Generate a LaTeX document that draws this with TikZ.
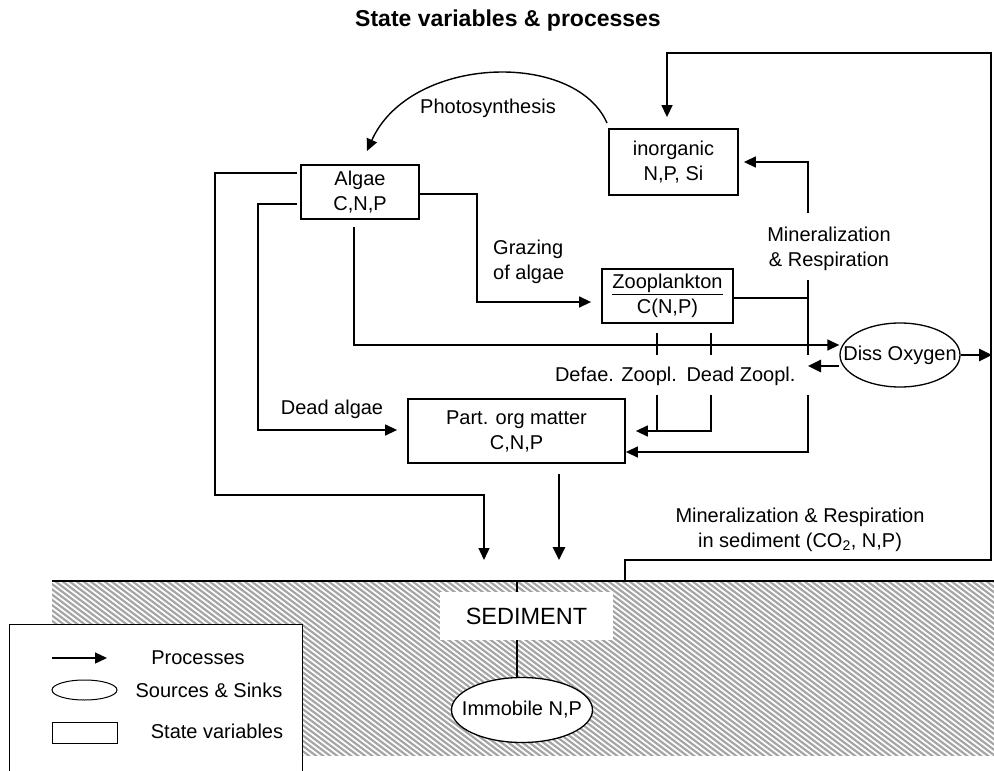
\documentclass[tikz,border=0pt]{standalone}
\usepackage{fontspec}
\setmainfont{Liberation Sans}
\usetikzlibrary{arrows.meta,shapes.geometric}
\definecolor{hatchgray}{HTML}{A6A6A6}

\begin{document}
\begin{tikzpicture}[x=1pt,y=-1pt,
  font=\fontsize{20}{25}\selectfont,
  statebox/.style={draw, line width=1.8pt, rectangle, align=center, inner sep=0pt},
  sourcesink/.style={draw, line width=1.3pt, ellipse, inner sep=0pt, fill=white},
  flow/.style={line width=1.4pt, -{Triangle[length=12pt,width=11pt]}},
  link/.style={line width=1.4pt},
  heavyflow/.style={line width=2.6pt, -{Triangle[length=13pt,width=12pt]}},
  lbl/.style={align=center, inner sep=0pt},
  hatchline/.style={line width=2.2pt, color=hatchgray}
]
\useasboundingbox (0,0) rectangle (994,771);

% ---------- sediment layer ----------
\begin{scope}
  \clip (52,581) rectangle (994,755);
  \foreach \x in {-260,-253,...,1000}
    \draw[hatchline] (\x,581) -- ++(240,180);
\end{scope}
\coordinate (sedL) at (52,581);
\coordinate (sedR) at (994,581);
\draw[line width=1.2pt] (sedL) -- (sedR);

% ---------- title ----------
\node[lbl, font=\fontsize{23}{28}\selectfont\bfseries] (title) at (508,21) {State variables \& processes};

% ---------- state variables ----------
\node[statebox, minimum width=118, minimum height=54] (algae) at (360,192) {Algae\\C,N,P};
\node[statebox, minimum width=129, minimum height=66] (inorg) at (673.5,162) {inorganic\\N,P, Si};
\node[statebox, minimum width=131, minimum height=54] (zoo) at (667.5,296) {\underline{Zooplankton}\\C(N,P)};
\node[statebox, minimum width=217, minimum height=64] (pom) at (516.5,431) {Part. org matter\\C,N,P};

% ---------- sources and sinks ----------
\node[sourcesink, minimum width=120, minimum height=64] (oxy) at (900,355) {};
\node[lbl] (oxytext) at (oxy) {Diss Oxygen};

% sediment column
\coordinate (sedtop) at (517,581);
\coordinate (sedbot) at (517,678);
\draw[line width=2pt] (sedtop) -- (sedbot);
\node[fill=white, minimum width=173, minimum height=48, inner sep=0pt,
      font=\fontsize{23.5}{28}\selectfont] (sed) at (526.5,616) {SEDIMENT};
\node[sourcesink, minimum width=141, minimum height=65] (immob) at (522,710) {};
\node[lbl] (immobtext) at (immob) {Immobile N,P};

% ---------- photosynthesis ----------
\coordinate (ps0) at (607,123);
\coordinate (ps1) at (367,151);
\draw[flow] (ps0) .. controls (575,50) and (410,55) .. (ps1);
\node[lbl] (pslbl) at (488,108) {Photosynthesis};

% ---------- sediment release back to inorganic nutrients ----------
\coordinate (rs0) at (625,581);
\coordinate (rs1) at (625,560);
\coordinate (rs2) at (991,560);
\coordinate (rs3) at (991,53);
\coordinate (rs4) at (667,53);
\draw[flow, shorten >=11pt] (rs0) -- (rs1) -- (rs2) -- (rs3) -- (rs4) -- (rs4 |- inorg.north);
\node[lbl] (rslbl) at (800,530) {Mineralization \& Respiration\\in sediment (CO\textsubscript{2}, N,P)};

% ---------- mineralization and respiration in water ----------
\coordinate (mr0) at (808,213);
\coordinate (mr1) at (808,162);
\draw[flow, shorten >=5pt] (mr0) -- (mr1) -- (inorg.east |- mr1);
\node[lbl] (mrlbl) at (829,249) {Mineralization\\\& Respiration};
\coordinate (mr2) at (808,280);
\coordinate (mr3) at (808,355);
\coordinate (mr4) at (808,395);
\coordinate (mr5) at (808,452);
\draw[link] (zoo.east |- 0,298) -- (808,298);
\draw[link] (mr2) -- (mr3);
\draw[flow] (mr4) -- (mr5) -- (pom.east |- mr5);

% ---------- oxygen exchange ----------
\coordinate (ox0) at (808,366);
\draw[heavyflow, shorten >=0pt] (oxy.west |- ox0) -- (ox0);
\coordinate (ox1) at (992,355);
\draw[heavyflow] (oxy.east) -- (ox1);

% ---------- algal respiration to oxygen ----------
\coordinate (ar0) at (354,227);
\coordinate (ar1) at (354,345);
\draw[flow] (ar0) -- (ar1) -- (oxy.west |- ar1);

% ---------- grazing ----------
\coordinate (gz0) at (477,194);
\coordinate (gz1) at (477,302);
\draw[flow, shorten >=10pt] (algae.east |- gz0) -- (gz0) -- (gz1) -- (zoo.west |- gz1);
\node[lbl, align=left, anchor=west] (gzlbl) at (493,262) {Grazing\\of algae};

% ---------- faeces and dead zooplankton ----------
\coordinate (df0) at (657,333);
\coordinate (df1) at (657,355);
\coordinate (df2) at (657,395);
\coordinate (df3) at (657,431);
\coordinate (dz0) at (711,333);
\coordinate (dz1) at (711,355);
\coordinate (dz2) at (711,395);
\coordinate (dz3) at (711,431);
\draw[link] (df0) -- (df1);
\draw[link] (dz0) -- (dz1);
\draw[link] (df2) -- (df3);
\draw[flow, shorten >=10pt] (dz2) -- (dz3) -- (pom.east |- dz3);
\node[lbl] (dflbl) at (616,376) {Defae. Zoopl.};
\node[lbl] (dzlbl) at (741,376) {Dead Zoopl.};

% ---------- dead algae ----------
\coordinate (da0) at (297,204);
\coordinate (da1) at (258,204);
\coordinate (da2) at (258,430);
\draw[flow, shorten >=10pt] (da0) -- (da1) -- (da2) -- (pom.west |- da2);
\node[lbl] (dalbl) at (332,409) {Dead algae};

% ---------- algal settling ----------
\coordinate (st0) at (297,173);
\coordinate (st1) at (215,173);
\coordinate (st2) at (215,495);
\coordinate (st3) at (484,495);
\coordinate (st4) at (484,560);
\draw[flow] (st0) -- (st1) -- (st2) -- (st3) -- (st4);

% ---------- detritus settling ----------
\coordinate (pm1) at (559,560);
\draw[heavyflow, shorten <=10pt] (pom.south -| pm1) -- (pm1);

% ---------- legend ----------
\fill[white] (9,624) rectangle (302,780);
\draw[line width=1pt] (9,780) -- (9,624) -- (302,624) -- (302,780);
\coordinate (lgA) at (52,658);
\coordinate (lgB) at (107,658);
\draw[flow] (lgA) -- (lgB);
\node[lbl] (lgAt) at (198,658) {Processes};
\node[sourcesink, line width=1pt, minimum width=65, minimum height=20] (lgE) at (84.5,690) {};
\node[lbl] (lgEt) at (209,690) {Sources \& Sinks};
\node[draw, line width=1pt, minimum width=65, minimum height=21, inner sep=0pt] (lgR) at (84.5,732.5) {};
\node[lbl] (lgRt) at (217,731) {State variables};

\end{tikzpicture}
\end{document}
